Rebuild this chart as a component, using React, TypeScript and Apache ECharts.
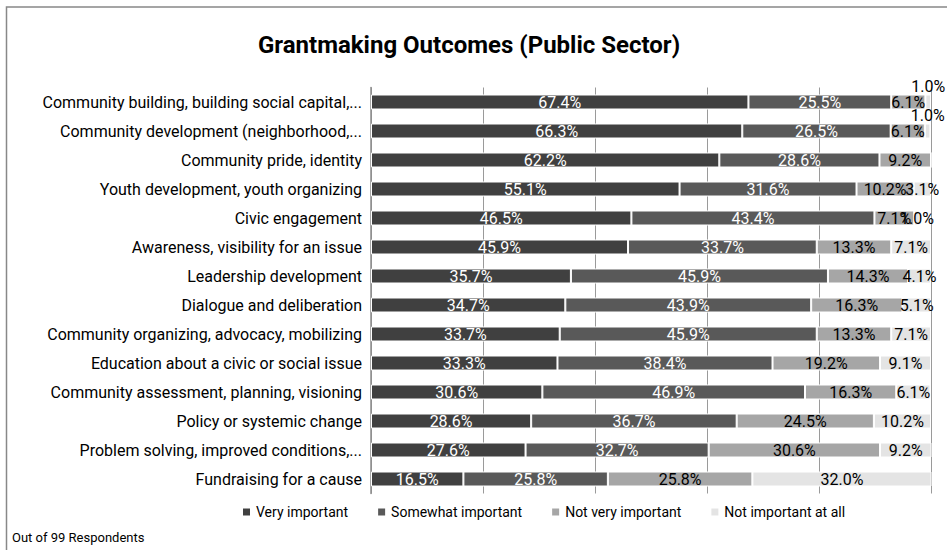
import React, { useEffect, useRef } from "react";
import * as echarts from "echarts";

const categories = [
  "Community building, building social capital,...",
  "Community development (neighborhood,...",
  "Community pride, identity",
  "Youth development, youth organizing",
  "Civic engagement",
  "Awareness, visibility for an issue",
  "Leadership development",
  "Dialogue and deliberation",
  "Community organizing, advocacy, mobilizing",
  "Education about a civic or social issue",
  "Community assessment, planning, visioning",
  "Policy or systemic change",
  "Problem solving, improved conditions,...",
  "Fundraising for a cause",
];

const veryImportant = [67.4, 66.3, 62.2, 55.1, 46.5, 45.9, 35.7, 34.7, 33.7, 33.3, 30.6, 28.6, 27.6, 16.5];
const somewhatImportant = [25.5, 26.5, 28.6, 31.6, 43.4, 33.7, 45.9, 43.9, 45.9, 38.4, 46.9, 36.7, 32.7, 25.8];
const notVeryImportant = [6.1, 6.1, 9.2, 10.2, 7.1, 13.3, 14.3, 16.3, 13.3, 19.2, 16.3, 24.5, 30.6, 25.8];
const notImportantAtAll = [1.0, 1.0, 0, 3.1, 1.0, 7.1, 4.1, 5.1, 7.1, 9.1, 6.1, 10.2, 9.2, 32.0];

const seriesNames = ["Very important", "Somewhat important", "Not very important", "Not important at all"];
const seriesValues = [veryImportant, somewhatImportant, notVeryImportant, notImportantAtAll];
const colors = ["#404040", "#595959", "#a6a6a6", "#e4e4e4"];
const labelColors = ["#ffffff", "#ffffff", "#000000", "#000000"];
const raisedLabelRows = [0, 1];

const FONT = "Roboto, 'Liberation Sans', sans-serif";

export default function App() {
  const ref = useRef<HTMLDivElement>(null);
  useEffect(() => {
    if (!ref.current) return;
    const chart = echarts.init(ref.current, null, { renderer: "svg" });
    const series = seriesValues.map((vals, si) => ({
      name: seriesNames[si],
      type: "bar",
      stack: "total",
      barWidth: 15,
      itemStyle: { color: colors[si], borderColor: "#ffffff", borderWidth: 1 },
      label: {
        show: true,
        position: "inside",
        color: labelColors[si],
        fontFamily: FONT,
        fontSize: 16,
        formatter: (p: any) => (p.value > 0 ? p.value.toFixed(1) + "%" : ""),
      },
      data: vals.map((v, i) =>
        si === 3 && raisedLabelRows.includes(i)
          ? { value: v, label: { position: "top", distance: 0, offset: [0, 0] } }
          : v
      ),
    }));
    chart.setOption({
      animation: false,
      textStyle: { fontFamily: FONT },
      title: {
        text: "Grantmaking Outcomes (Public Sector)",
        left: 464,
        top: 28,
        textAlign: "center",
        textStyle: { fontFamily: FONT, fontSize: 24, fontWeight: "bold", color: "#000" },
      },
      graphic: [
        {
          type: "rect",
          shape: { x: 6.5, y: 7, width: 960, height: 560 },
          style: { fill: "none", stroke: "#888888", lineWidth: 1.5 },
          silent: true,
        },
        {
          type: "text",
          left: 12,
          top: 531,
          style: { text: "Out of 99 Respondents", fontFamily: FONT, fontSize: 13, fill: "#000" },
        },
      ],
      legend: {
        left: 236,
        top: 500,
        itemWidth: 9,
        itemHeight: 9,
        itemGap: 28,
        icon: "rect",
        textStyle: { fontFamily: FONT, fontSize: 14, color: "#000" },
        data: seriesNames,
      },
      grid: { left: 371, right: 16, top: 87.5, bottom: 56.5, containLabel: false },
      xAxis: {
        type: "value",
        min: 0,
        max: 100,
        interval: 20,
        axisLabel: { show: false },
        axisTick: { show: false },
        axisLine: { show: false },
        splitLine: { show: true, lineStyle: { color: "#9a9a9a", width: 1 } },
      },
      yAxis: {
        type: "category",
        inverse: true,
        data: categories,
        axisTick: { show: false },
        axisLine: { show: true, lineStyle: { color: "#8c8c8c", width: 1.5 } },
        axisLabel: { color: "#000", fontFamily: FONT, fontSize: 16, margin: 9 },
      },
      series,
    });
    return () => chart.dispose();
  }, []);
  return <div ref={ref} style={{ position: "absolute", left: 0, top: 0, width: 947, height: 550 }} />;
}
